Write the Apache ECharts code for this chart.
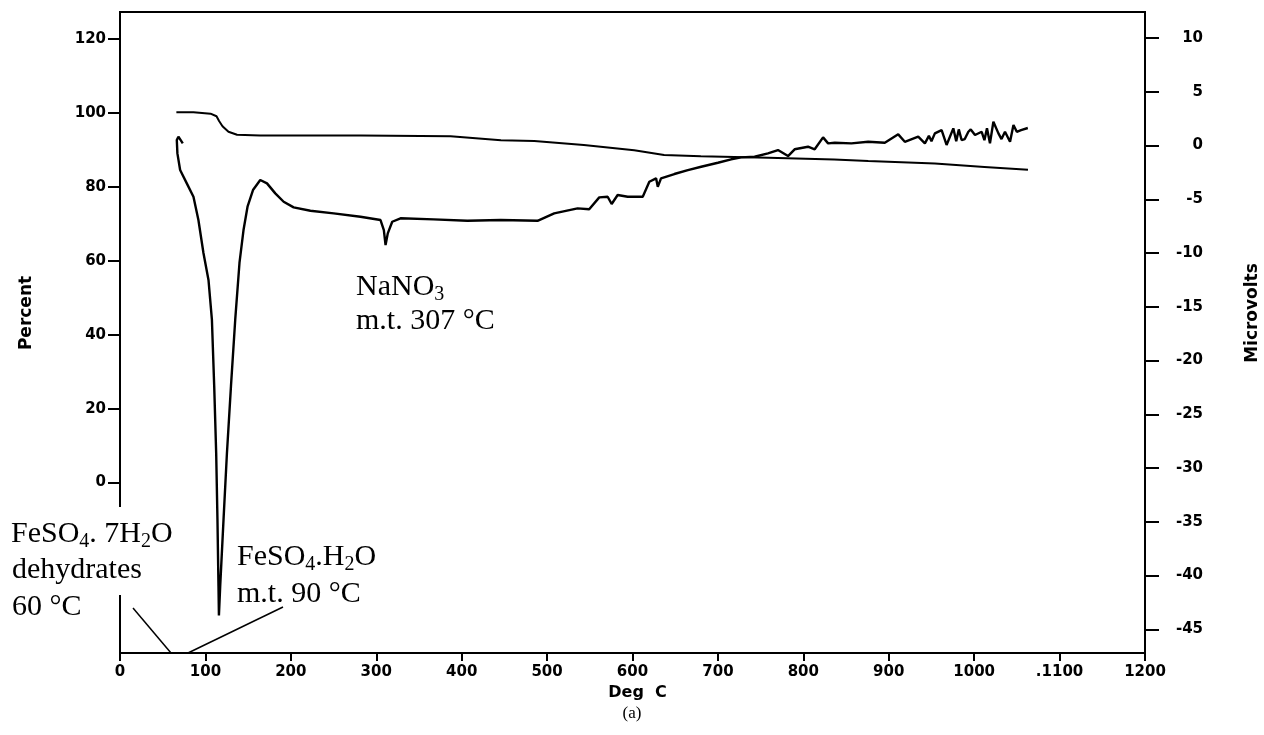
<!DOCTYPE html>
<html><head><meta charset="utf-8">
<script src="https://cdn.jsdelivr.net/npm/echarts@6/dist/echarts.min.js"></script>
<style>html,body{margin:0;padding:0;background:#fff}#c{width:1264px;height:735px}</style>
</head><body><div id="c"></div>
<script>
// ---------- data ----------
const tempTicks = [0,100,200,300,400,500,600,700,800,900,1000,1100,1200];
const tempTickLabels = ['0','100','200','300','400','500','600','700','800','900','1000','.1100','1200'];
const percentTicks = [0,20,40,60,80,100,120];
const microvoltTicks = [-45,-40,-35,-30,-25,-20,-15,-10,-5,0,5,10];

// TG (weight, Percent)
const tgTemp = [66,86,106,113,116,120,127,137,164,282,387,446,485,543,602,637,680,759,836,876,954,1012,1063];
const tgPercent = [100.2,100.2,99.8,99.1,97.8,96.4,94.9,94.1,93.9,93.9,93.7,92.6,92.4,91.3,89.9,88.6,88.3,87.9,87.4,87.0,86.3,85.4,84.6];

// DTA (Microvolts)
const dtaTemp = [73.5,68.4,66.5,67.2,70.4,78.2,86.0,91.8,97.7,103.6,107.6,110.3,112.6,114.1,115.3,115.8,117.3,121.2,125.2,129.9,134.9,139.9,144.6,149.3,155.7,164.2,172.1,181.8,191.6,203.3,222.9,250.2,281.5,305,308.9,310.9,313.5,318.7,328.4,367.2,406.7,445.7,488.8,508.3,535.7,549.3,561.1,570.9,575.6,582.6,594.4,612,619.7,627.6,629.6,633.4,649,664.8,680.4,700,715.5,727.3,742.9,758.6,770.3,782.1,789.8,805.5,813.3,823.1,829,836.8,856.3,875.9,895.4,911.1,918.8,934.5,942.3,947,950,954,961.9,967.7,975.6,979,982,985.3,989,993.2,996,1001,1008.8,1012,1015,1018.5,1022.5,1028.4,1032,1036.1,1042,1046,1049.9,1054.9,1062.8];
const dtaMicrovolts = [0.2,0.82,0.51,-0.73,-2.28,-3.52,-4.76,-6.93,-10.0,-12.5,-16.2,-22.4,-28.6,-34.8,-41.0,-43.7,-41.0,-34.8,-28.6,-22.4,-16.2,-10.9,-7.86,-5.69,-4.14,-3.21,-3.52,-4.45,-5.23,-5.75,-6.07,-6.31,-6.62,-6.93,-7.86,-9.26,-8.17,-7.09,-6.77,-6.87,-7.0,-6.93,-7.0,-6.31,-5.84,-5.93,-4.82,-4.76,-5.44,-4.60,-4.76,-4.76,-3.37,-3.05,-3.83,-3.05,-2.65,-2.28,-1.97,-1.60,-1.28,-1.10,-1.04,-0.73,-0.42,-0.98,-0.35,-0.11,-0.35,0.76,0.2,0.26,0.2,0.35,0.26,1.04,0.35,0.82,0.2,0.9,0.4,1.13,1.44,0.05,1.6,0.4,1.5,0.51,0.6,1.28,1.5,0.98,1.28,0.5,1.6,0.2,2.21,1.13,0.6,1.28,0.35,1.91,1.28,1.44,1.63];

// ---------- helpers ----------
const AXF = '"DejaVu Sans", sans-serif';
const SERIF = '"Liberation Serif", "Times New Roman", serif';
const mctx = document.createElement('canvas').getContext('2d');
function annot(parts, x, yMid, fs) {
  const els = [];
  let cx = x;
  parts.forEach(p => {
    const size = p.sub ? Math.round(fs * 0.68) : fs;
    mctx.font = size + 'px ' + SERIF;
    const w = mctx.measureText(p.t).width;
    els.push({
      type: 'text', x: cx, y: p.sub ? yMid + fs * 0.26 : yMid, z: 102,
      style: { text: p.t, fontSize: size, fontFamily: SERIF, fill: '#000',
               textAlign: 'left', textVerticalAlign: 'middle', align: 'left', verticalAlign: 'middle' }
    });
    cx += w;
  });
  return els;
}
const FS = 30;
const graphics = [].concat(
  [{ type: 'rect', shape: { x: 113, y: 507, width: 14, height: 88 }, style: { fill: '#fff' }, z: 101 }],
  annot([{t:'NaNO'},{t:'3',sub:1}], 356, 287, FS),
  annot([{t:'m.t. 307 °C'}], 356, 321, FS),
  annot([{t:'FeSO'},{t:'4',sub:1},{t:'. 7H'},{t:'2',sub:1},{t:'O'}], 11, 534, FS),
  annot([{t:'dehydrates'}], 12, 570, FS),
  annot([{t:'60 °C'}], 12, 607, FS),
  annot([{t:'FeSO'},{t:'4',sub:1},{t:'.H'},{t:'2',sub:1},{t:'O'}], 237, 557, FS),
  annot([{t:'m.t. 90 °C'}], 237, 594, FS),
  [
    { type: 'line', z: 102, shape: { x1: 133, y1: 608, x2: 171, y2: 653 }, style: { stroke: '#000', lineWidth: 1.5 } },
    { type: 'line', z: 102, shape: { x1: 188, y1: 653, x2: 283, y2: 607 }, style: { stroke: '#000', lineWidth: 1.5 } },
    { type: 'text', x: 27, y: 313, rotation: Math.PI / 2, z: 102,
      style: { text: 'Percent', fontSize: 17, fontWeight: 'bold', fontFamily: AXF, fill: '#000',
               textAlign: 'center', textVerticalAlign: 'middle', align: 'center', verticalAlign: 'middle' } },
    { type: 'text', x: 1253, y: 313, rotation: Math.PI / 2, z: 102,
      style: { text: 'Microvolts', fontSize: 17, fontWeight: 'bold', fontFamily: AXF, fill: '#000',
               textAlign: 'center', textVerticalAlign: 'middle', align: 'center', verticalAlign: 'middle' } },
    { type: 'text', x: 632, y: 714, z: 102,
      style: { text: '(a)', fontSize: 17, fontFamily: SERIF, fill: '#000',
               textAlign: 'center', textVerticalAlign: 'middle', align: 'center', verticalAlign: 'middle' } }
  ]
);

const tickLabelStyle = { fontFamily: AXF, fontWeight: 'bold', fontSize: 15, color: '#000' };
const lineBlack = { color: '#000', width: 2 };

const chart = echarts.init(document.getElementById('c'), null, { renderer: 'canvas' });
chart.setOption({
  animation: false,
  backgroundColor: '#fff',
  grid: { left: 120, right: 119, top: 12, bottom: 82, show: true, borderColor: '#000', borderWidth: 2 },
  xAxis: {
    type: 'value', min: 0, max: 1200, interval: 100,
    name: 'Deg  C', nameLocation: 'middle', nameGap: 31,
    nameTextStyle: { fontFamily: AXF, fontWeight: 'bold', fontSize: 16, color: '#000', padding: [0, 0, 0, 10] },
    axisLine: { show: true, onZero: false, lineStyle: lineBlack },
    axisTick: { show: true, length: 8, lineStyle: lineBlack },
    axisLabel: Object.assign({ margin: 12, formatter: v => { const i = tempTicks.indexOf(v); return i >= 0 ? tempTickLabels[i] : ''; } }, tickLabelStyle),
    splitLine: { show: false }
  },
  yAxis: [
    {
      type: 'value', position: 'left', min: -46.1, max: 127.3,
      axisLine: { show: true, onZero: false, lineStyle: lineBlack },
      axisTick: { show: true, length: 12, customValues: percentTicks, lineStyle: lineBlack },
      axisLabel: Object.assign({ margin: 14, customValues: percentTicks }, tickLabelStyle),
      splitLine: { show: false }
    },
    {
      type: 'value', position: 'right', min: -47.2, max: 12.42,
      axisLine: { show: true, onZero: false, lineStyle: lineBlack },
      axisTick: { show: true, length: 14, customValues: microvoltTicks, lineStyle: lineBlack },
      axisLabel: Object.assign({ margin: 58, align: 'right', customValues: microvoltTicks }, tickLabelStyle),
      splitLine: { show: false }
    }
  ],
  series: [
    {
      name: 'Percent', type: 'line', yAxisIndex: 0, showSymbol: false, symbol: 'none',
      lineStyle: { color: '#000', width: 2 },
      data: tgTemp.map((t, i) => [t, tgPercent[i]])
    },
    {
      name: 'Microvolts', type: 'line', yAxisIndex: 1, showSymbol: false, symbol: 'none',
      lineStyle: { color: '#000', width: 2.4 },
      data: dtaTemp.map((t, i) => [t, dtaMicrovolts[i]])
    }
  ],
  graphic: graphics
});
</script>
</body></html>
